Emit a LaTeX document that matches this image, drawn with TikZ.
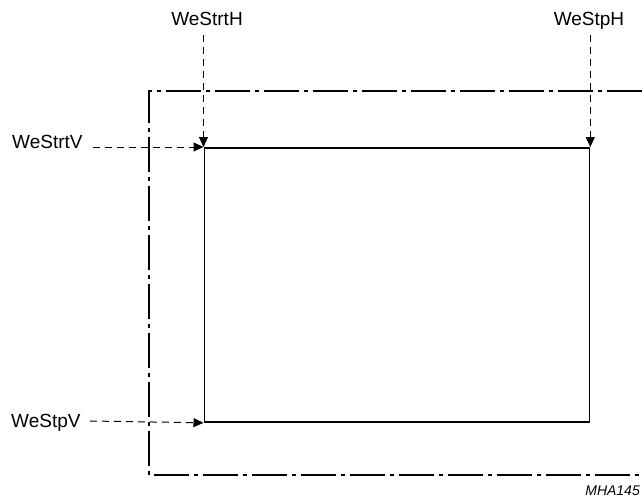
\documentclass[tikz,border=0pt]{standalone}
\usepackage{fontspec}
\setmainfont{Liberation Sans}
\usetikzlibrary{arrows.meta}
\begin{document}
\begin{tikzpicture}[x=1pt,y=-1pt,
  lbl/.style={inner sep=0pt,font=\fontsize{19}{21}\selectfont},
  dimarrow/.style={line width=1pt,dash pattern=on 7pt off 5pt,-{Triangle[length=10pt,width=9pt]}},
  frameline/.style={line width=1.2pt,dash pattern=on 35pt off 5pt on 4pt off 5pt},
  win/.style={draw,line width=1.8pt,minimum width=385pt,minimum height=274pt,inner sep=0pt}]
\useasboundingbox (0,0) rectangle (642,500);
\clip (0,0) rectangle (642,500);
\draw[frameline] (642,91) -- (149,91) -- (149,475) -- (642,475);
\node[win,anchor=north west] (w) at (203.5,147) {};
\node[lbl,anchor=base] (sh) at (207,26) {WeStrtH};
\node[lbl,anchor=base] (ph) at (589,26) {WeStpH};
\node[lbl,anchor=base west] (sv) at (12,148) {WeStrtV};
\node[lbl,anchor=base west] (pv) at (11,427) {WeStpV};
\node[inner sep=0pt,anchor=base east,font=\fontsize{14}{16}\selectfont\itshape] (id) at (640,495) {MHA145};
\draw[dimarrow] (w.north west |- 0,35) -- (w.north west);
\draw[dimarrow] (w.north east |- 0,35) -- (w.north east);
\draw[dimarrow] (93,147) -- (w.north west);
\draw[dimarrow] (90,421) -- (w.south west);
\end{tikzpicture}
\end{document}
